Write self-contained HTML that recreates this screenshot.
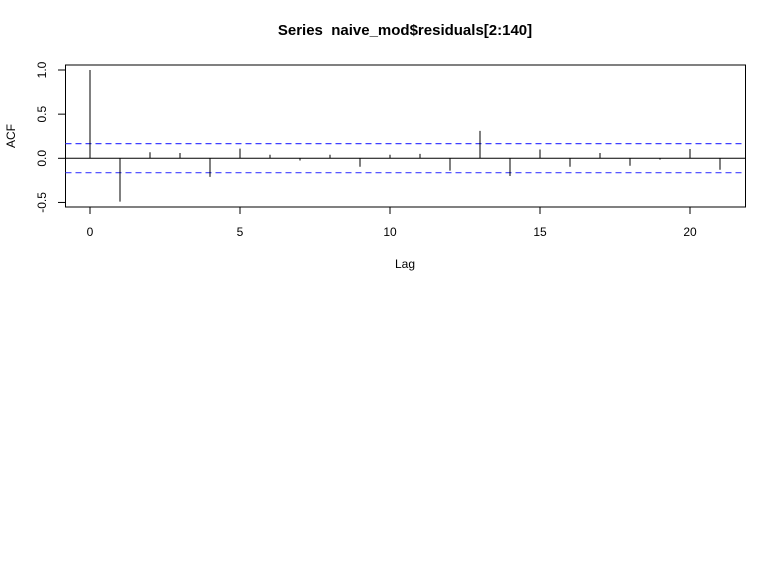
<!DOCTYPE html>
<html><head><meta charset="utf-8"><style>
html,body{margin:0;padding:0;background:#fff;}
svg{display:block;font-family:"Liberation Sans",Arial,sans-serif;}
</style></head><body>
<svg id="chart" width="779" height="577" viewBox="0 0 779 577">
<text x="405" y="35" text-anchor="middle" font-size="15" font-weight="bold">Series&#160; naive_mod$residuals[2:140]</text>
<rect x="65.5" y="65" width="680" height="142" fill="none" stroke="#000" stroke-width="1"/>
<g id="xaxis"></g>
<g id="yaxis"></g>
<g id="marks"></g>
<text x="405" y="268" text-anchor="middle" font-size="12">Lag</text>
<text transform="translate(15,136) rotate(-90)" text-anchor="middle" font-size="12">ACF</text>
</svg>
<script>
const lags = [0,1,2,3,4,5,6,7,8,9,10,11,12,13,14,15,16,17,18,19,20,21];
const acfValues = [1.0,-0.49,0.068,0.06,-0.21,0.11,0.04,-0.025,0.04,-0.095,0.04,0.05,-0.14,0.31,-0.2,0.10,-0.095,0.06,-0.085,-0.015,0.105,-0.13];
const ciUpper = 0.166, ciLower = -0.163;
const xTicks = [0,5,10,15,20];
const yTicks = [-0.5,0.0,0.5,1.0];
const yTickLabels = ["-0.5","0.0","0.5","1.0"];

const NS='http://www.w3.org/2000/svg';
const X = v => 90 + v*30;
const Y = v => 158.3 - v*88.3;
function mk(tag, attrs, parent){const e=document.createElementNS(NS,tag);for(const k in attrs)e.setAttribute(k,attrs[k]);parent.appendChild(e);return e;}
const xa=document.getElementById('xaxis'), ya=document.getElementById('yaxis'), mg=document.getElementById('marks');
xTicks.forEach(t=>{
  const l=mk('line',{x1:X(t),x2:X(t),y1:207,y2:214,stroke:'#000'},xa);
  
  
  const tx=mk('text',{x:X(t),y:236,'text-anchor':'middle','font-size':12},xa);tx.textContent=t;
  
  
});
yTicks.forEach((t,i)=>{
  const l=mk('line',{x1:58,x2:65.5,y1:Y(t),y2:Y(t),stroke:'#000'},ya);
  
  
  const tx=mk('text',{'text-anchor':'middle','font-size':12,transform:`translate(46,${Y(t)}) rotate(-90)`},ya);tx.textContent=yTickLabels[i];
  
  
});
const z=mk('line',{x1:65.5,x2:745.5,y1:Y(0),y2:Y(0),stroke:'#000'},mg);


[ciUpper,ciLower].forEach(c=>{
  const l=mk('line',{x1:65.5,x2:745.5,y1:Y(c),y2:Y(c),stroke:'#4040ff','stroke-dasharray':'6,4','stroke-width':1.2},mg);
  
  
});
lags.forEach((lg,i)=>{
  const l=mk('line',{x1:X(lg),x2:X(lg),y1:Y(0),y2:Y(acfValues[i]),stroke:'#000','stroke-width':1},mg);
  
  
});
</script>
</body></html>
